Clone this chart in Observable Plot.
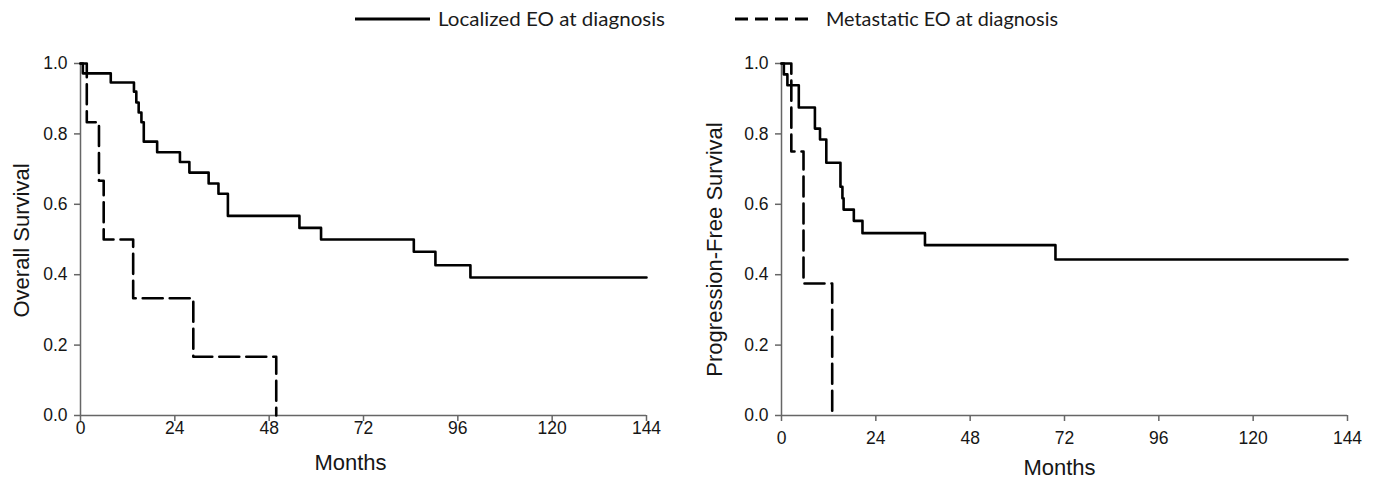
<!DOCTYPE html>
<html>
<head>
<meta charset="utf-8">
<script src="https://cdn.jsdelivr.net/npm/d3@7"></script>
<script src="https://cdn.jsdelivr.net/npm/@observablehq/plot@0.6"></script>
<style>
  html, body { margin: 0; padding: 0; background: #fff; }
  #wrap { position: relative; width: 1373px; height: 485px; overflow: hidden; background: #fff; }
  #legend { position: absolute; left: 0; top: 0; }
  #left { position: absolute; left: 0; top: 40px; }
  #right { position: absolute; left: 690px; top: 40px; }
</style>
</head>
<body>
<div id="wrap">
  <svg id="legend" width="1373" height="40"></svg>
  <div id="left"></div>
  <div id="right"></div>
</div>
<script>
// ---- Data ----
const seriesNames = ["Localized EO at diagnosis", "Metastatic EO at diagnosis"];
const xTicks = [0, 24, 48, 72, 96, 120, 144];
const yTicks = [0, 0.2, 0.4, 0.6, 0.8, 1.0];

// Overall survival, localized
const osLocalMonths = [0, 0.6, 7.7, 13.6, 14.2, 14.8, 15.5, 16.1, 19.5, 25.3, 27.7, 32.6, 35.1, 37.5, 55.7, 61.2, 84.8, 90.3, 99.2, 144];
const osLocalSurv   = [1, 0.972, 0.946, 0.92, 0.889, 0.861, 0.833, 0.778, 0.748, 0.72, 0.69, 0.659, 0.63, 0.567, 0.533, 0.5, 0.465, 0.427, 0.392, 0.392];
// Overall survival, metastatic
const osMetaMonths = [0, 1.6, 4.7, 5.9, 13.4, 28.7, 49.8];
const osMetaSurv   = [1, 0.833, 0.667, 0.5, 0.333, 0.167, 0];
// Progression-free survival, localized
const pfsLocalMonths = [0, 0.6, 1.5, 4.4, 8.5, 9.8, 11.4, 15.0, 15.5, 15.8, 18.4, 20.6, 36.5, 69.7, 144];
const pfsLocalSurv   = [1, 0.969, 0.938, 0.875, 0.815, 0.784, 0.718, 0.65, 0.617, 0.585, 0.553, 0.518, 0.484, 0.443, 0.443];
// Progression-free survival, metastatic
const pfsMetaMonths = [0, 2.5, 5.6, 12.9];
const pfsMetaSurv   = [1, 0.75, 0.375, 0];

const rows = (ms, ss) => ms.map((m, i) => ({m, s: ss[i]}));

const FONT = "'Liberation Sans', Arial, Helvetica, sans-serif";
const AXIS = "#666";

function kmPlot(o) {
  return Plot.plot({
    width: o.width, height: 445,
    marginLeft: o.marginLeft, marginRight: o.marginRight, marginTop: 23, marginBottom: 70,
    x: {domain: [0, 144], ticks: xTicks},
    y: {domain: [0, 1], ticks: yTicks},
    style: {fontFamily: FONT, fontSize: "17.5px", color: "#161616", background: "white", overflow: "visible"},
    marks: [
      Plot.axisX({ticks: xTicks, tickSize: 6, tickPadding: o.xPad, label: null, stroke: AXIS, strokeWidth: 1.5}),
      Plot.axisY({ticks: yTicks, tickSize: 6, tickPadding: 7, label: null, tickFormat: d3.format(".1f"), stroke: AXIS, strokeWidth: 1.5}),
      Plot.ruleX([0], {stroke: AXIS, strokeWidth: 1.5}),
      Plot.ruleY([0], {stroke: AXIS, strokeWidth: 1.5}),
      Plot.line(o.meta, {x: "m", y: "s", curve: "step-after", stroke: "#000", strokeWidth: 2.6, strokeDasharray: "20,7"}),
      Plot.line(o.local, {x: "m", y: "s", curve: "step-after", stroke: "#000", strokeWidth: 2.6}),
      Plot.text([o.ylabel], {text: d => d, frameAnchor: "left", textAnchor: "middle", lineAnchor: "middle", rotate: -90, dx: o.ylDx, dy: o.ylDy, fontSize: 22, fill: "#161616"}),
      Plot.text(["Months"], {text: d => d, frameAnchor: "bottom", textAnchor: "middle", lineAnchor: "middle", dx: o.xlDx, dy: o.xlDy, fontSize: 22, fill: "#161616"})
    ]
  });
}

document.getElementById("left").appendChild(kmPlot({
  width: 690, marginLeft: 80, marginRight: 44,
  local: rows(osLocalMonths, osLocalSurv), meta: rows(osMetaMonths, osMetaSurv),
  ylabel: "Overall Survival", ylDx: -59, ylDy: 1, xlDx: -13, xlDy: 47, xPad: 0
}));
document.getElementById("right").appendChild(kmPlot({
  width: 683, marginLeft: 91, marginRight: 26,
  local: rows(pfsLocalMonths, pfsLocalSurv), meta: rows(pfsMetaMonths, pfsMetaSurv),
  ylabel: "Progression-Free Survival", ylDx: -67, ylDy: 10, xlDx: -5, xlDy: 52, xPad: 10
}));

// ---- Legend ----
const lg = d3.select("#legend");
const legendItems = [
  {name: seriesNames[0], x1: 355, x2: 430, tx: 438, tl: 227, dash: null},
  {name: seriesNames[1], x1: 735, x2: 808, tx: 826, tl: 232, dash: "13,7"}
];
legendItems.forEach(it => {
  lg.append("line").attr("x1", it.x1).attr("x2", it.x2).attr("y1", 19).attr("y2", 19)
    .attr("stroke", "#000").attr("stroke-width", 3).attr("stroke-dasharray", it.dash);
  lg.append("text").attr("x", it.tx).attr("y", 25.5)
    .attr("font-family", "Lato, 'Open Sans', sans-serif").attr("font-size", 19).attr("fill", "#1a1a1a")
    .attr("textLength", it.tl).attr("lengthAdjust", "spacingAndGlyphs")
    .text(it.name);
});
</script>
</body>
</html>
